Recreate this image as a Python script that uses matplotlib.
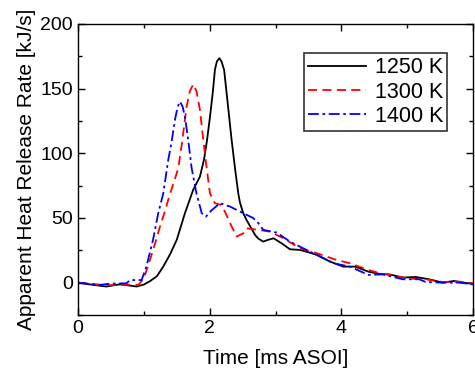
import numpy as np
import matplotlib
matplotlib.use('Agg')
import matplotlib.pyplot as plt
from matplotlib.ticker import MultipleLocator

# 1250 K
t_1250 = [0.0, 0.2, 0.43, 0.55, 0.64, 0.75, 0.89, 1.0, 1.09, 1.2, 1.296, 1.4, 1.5, 1.625, 1.75,
          1.853, 1.914, 1.96, 2.005, 2.05, 2.08, 2.11, 2.147, 2.18, 2.22, 2.28, 2.33, 2.385, 2.435,
          2.46, 2.51, 2.56, 2.69, 2.74, 2.815, 2.88, 2.97, 3.09, 3.22, 3.37, 3.5, 3.63, 3.83, 4.03,
          4.21, 4.41, 4.6, 4.73, 4.93, 5.13, 5.33, 5.54, 5.71, 5.85, 6.0]
q_1250 = [0.0, -1.5, -3.0, -2.0, -1.3, -2.0, -3.0, -1.5, 1.0, 5.0, 12.4, 22.0, 33.0, 53.7, 71.7,
          82.0, 95.0, 110.0, 128.0, 148.0, 164.5, 171.0, 173.5, 171.0, 164.5, 136.0, 112.0, 88.5, 69.0,
          62.0, 53.7, 48.5, 36.9, 34.0, 31.7, 33.0, 34.3, 30.5, 25.8, 25.3, 23.5, 21.4, 16.2, 12.4,
          12.4, 8.5, 6.5, 6.4, 3.9, 4.4, 2.6, 0.0, 1.3, 0.0, -0.8]

# 1300 K
t_1300 = [0.0, 0.43, 0.7, 0.916, 1.0, 1.094, 1.17, 1.246, 1.32, 1.40, 1.46, 1.524, 1.58, 1.65,
          1.70, 1.752, 1.80, 1.853, 1.90, 1.955, 2.005, 2.08, 2.18, 2.24, 2.31, 2.41, 2.46, 2.51,
          2.56, 2.74, 2.92, 3.12, 3.37, 3.63, 3.93, 4.13, 4.41, 4.6, 4.78, 5.03, 5.28, 5.54, 5.79, 6.0]
q_1300 = [0.0, -2.0, -1.5, -1.8, 3.0, 17.5, 30.0, 43.3, 55.0, 69.0, 78.0, 88.5, 108.0, 136.0,
          148.0, 153.4, 148.0, 133.6, 112.0, 88.5, 69.0, 61.4, 60.0, 54.0, 46.0, 35.6, 36.9, 38.0,
          42.0, 40.8, 39.4, 34.3, 26.6, 22.7, 17.5, 15.0, 9.8, 7.0, 5.7, 3.1, 2.6, 0.5, 0.8, -0.5]

# 1400 K
t_1400 = [0.0, 0.33, 0.48, 0.74, 0.79, 0.967, 1.04, 1.14, 1.22, 1.296, 1.372, 1.42, 1.473, 1.515,
          1.549, 1.59, 1.625, 1.68, 1.727, 1.80, 1.88, 1.944, 2.03, 2.157, 2.31, 2.51, 2.66, 2.74,
          2.815, 3.02, 3.22, 3.47, 3.73, 3.88, 4.13, 4.41, 4.63, 4.93, 5.18, 5.28, 5.54, 5.79, 6.0]
q_1400 = [0.0, -1.8, -0.8, -0.5, 2.0, 2.0, 12.4, 33.0, 53.7, 69.0, 95.0, 108.0, 125.8, 136.0,
          140.0, 136.0, 128.4, 108.0, 88.5, 69.0, 53.7, 51.0, 56.0, 61.4, 58.8, 53.7, 50.0, 46.0,
          40.8, 38.7, 31.7, 25.3, 18.9, 15.0, 12.4, 6.0, 6.4, 2.6, 2.6, 0.5, 0.0, 0.0, -1.3]

plt.rcParams['font.family'] = ['Liberation Sans', 'DejaVu Sans']

fig = plt.figure(figsize=(4.75, 3.78), dpi=100)
ax = fig.add_axes([0.164, 0.1667, 0.832, 0.770])

ax.plot(t_1250, q_1250, color='black', linestyle='-', linewidth=1.3, label='1250 K')
ax.plot(t_1300, q_1300, color='red', linestyle=(0, (5, 3)), linewidth=1.3, label='1300 K')
ax.plot(t_1400, q_1400, color='blue', linestyle=(0, (6, 2, 1.5, 2)), linewidth=1.3, label='1400 K')

ax.set_xlim(0, 6)
ax.set_ylim(-25, 200)
ax.xaxis.set_major_locator(MultipleLocator(2))
ax.xaxis.set_minor_locator(MultipleLocator(1))
ax.yaxis.set_major_locator(MultipleLocator(50))
ax.yaxis.set_minor_locator(MultipleLocator(25))
ax.tick_params(which='both', direction='in', top=True, right=True, labelsize=14, width=1.0)
ax.tick_params(which='major', length=5)
ax.tick_params(which='minor', length=3)
for s in ax.spines.values():
    s.set_linewidth(1.0)

ax.set_xlabel('Time [ms ASOI]', fontsize=15, labelpad=9)
ax.set_ylabel('Apparent Heat Release Rate [kJ/s]', fontsize=15, labelpad=3)

leg = ax.legend(loc='upper right', bbox_to_anchor=(0.935, 0.9), fontsize=15.5, frameon=True,
                fancybox=False, edgecolor='black', handlelength=2.7, handletextpad=0.4,
                borderpad=0.2, labelspacing=0.15, borderaxespad=0)
leg.get_frame().set_linewidth(1.2)

fig.savefig('out.png', dpi=100)
